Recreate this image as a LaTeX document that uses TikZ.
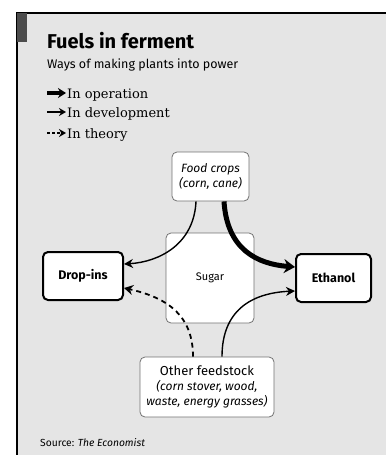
\documentclass[tikz,border=0pt]{standalone}
\usepackage{fontspec}
\setmainfont{Fira Sans}
\newfontfamily\legendfont{DejaVu Serif}
\usetikzlibrary{arrows.meta}
\definecolor{bgcol}{gray}{0.90}
\tikzset{
  lightbox/.style={draw=black!55, line width=0.8pt, rounded corners=5pt, fill=white, align=center, inner sep=2pt},
  boldbox/.style={draw=black, line width=2pt, rounded corners=5pt, fill=white, font=\bfseries\fontsize{12.5}{14}\selectfont, inner sep=2pt},
  thickarr/.style={line width=5pt, -{Stealth[length=11pt,width=14pt]}},
  thinarr/.style={line width=1.4pt, -{Stealth[length=9pt,width=9pt]}},
  dasharr/.style={line width=1.8pt, dash pattern=on 5pt off 4pt, -{Stealth[length=9pt,width=10pt]}},
  legtext/.style={anchor=base west, font=\legendfont\fontsize{13}{15}\selectfont, inner sep=0pt},
}
\begin{document}
\begin{tikzpicture}[x=1pt,y=-1pt]
\useasboundingbox (0,0) rectangle (386,455);
\fill[bgcol] (17,13) rectangle (386,455);
\draw[line width=1.2pt] (17,455) -- (17,13) -- (386,13);
\fill[black!70] (17,13) rectangle (27,42);

\node[anchor=base west, font=\bfseries\fontsize{20}{23}\selectfont, inner sep=0pt] (title) at (47,48) {Fuels in ferment};
\node[anchor=base west, font=\fontsize{12.5}{14}\selectfont, inner sep=0pt] (sub) at (47,68) {Ways of making plants into power};

\coordinate (l1a) at (47,93); \coordinate (l1b) at (66,93);
\coordinate (l2a) at (47,112); \coordinate (l2b) at (66,112);
\coordinate (l3a) at (47,133); \coordinate (l3b) at (66,133);
\draw[line width=3.5pt, -{Stealth[length=8pt,width=10pt]}] (l1a) -- (l1b);
\draw[line width=1.2pt, -{Stealth[length=7pt,width=8pt]}] (l2a) -- (l2b);
\draw[line width=1.4pt, dash pattern=on 3pt off 2pt, -{Stealth[length=7pt,width=8pt]}] (l3a) -- (l3b);
\node[legtext] (lg1) at (67,98) {In operation};
\node[legtext] (lg2) at (67,117) {In development};
\node[legtext] (lg3) at (67,138) {In theory};

\node[lightbox, minimum width=88pt, minimum height=90pt, font=\fontsize{11}{13}\selectfont] (sugar) at (210,278) {Sugar};
\node[lightbox, minimum width=77pt, minimum height=49pt, font=\itshape\fontsize{12}{15}\selectfont] (food) at (210.5,176.5) {Food crops\\(corn, cane)};
\node[boldbox, minimum width=80pt, minimum height=48pt] (drop) at (83,276) {Drop-ins};
\node[boldbox, minimum width=75pt, minimum height=48pt] (eth) at (333.5,278) {Ethanol};
\node[lightbox, minimum width=134pt, minimum height=60pt, font=\fontsize{12}{15}\selectfont] (other) at (207,387) {{\fontsize{13}{15}\selectfont Other feedstock}\\\itshape(corn stover, wood,\\\itshape waste, energy grasses)};

\draw[thickarr] ([xshift=13.5pt]food.south) .. controls +(3,48) and +(-38,-3) .. ([yshift=11pt]eth.west);
\draw[thinarr] ([xshift=-14.5pt]food.south) .. controls +(-2,43) and +(35,-2) .. ([yshift=12pt]drop.east);
\draw[dasharr] ([xshift=-14pt]other.north) .. controls +(0,-40) and +(45,10) .. ([yshift=-12pt]drop.east);
\draw[thinarr] ([xshift=15pt]other.north) .. controls +(0,-45) and +(-45,2) .. ([yshift=-13pt]eth.west);

\node[anchor=base west, font=\fontsize{10.3}{12}\selectfont, inner sep=0pt] (src) at (40,446) {Source: \itshape The Economist};
\end{tikzpicture}
\end{document}
